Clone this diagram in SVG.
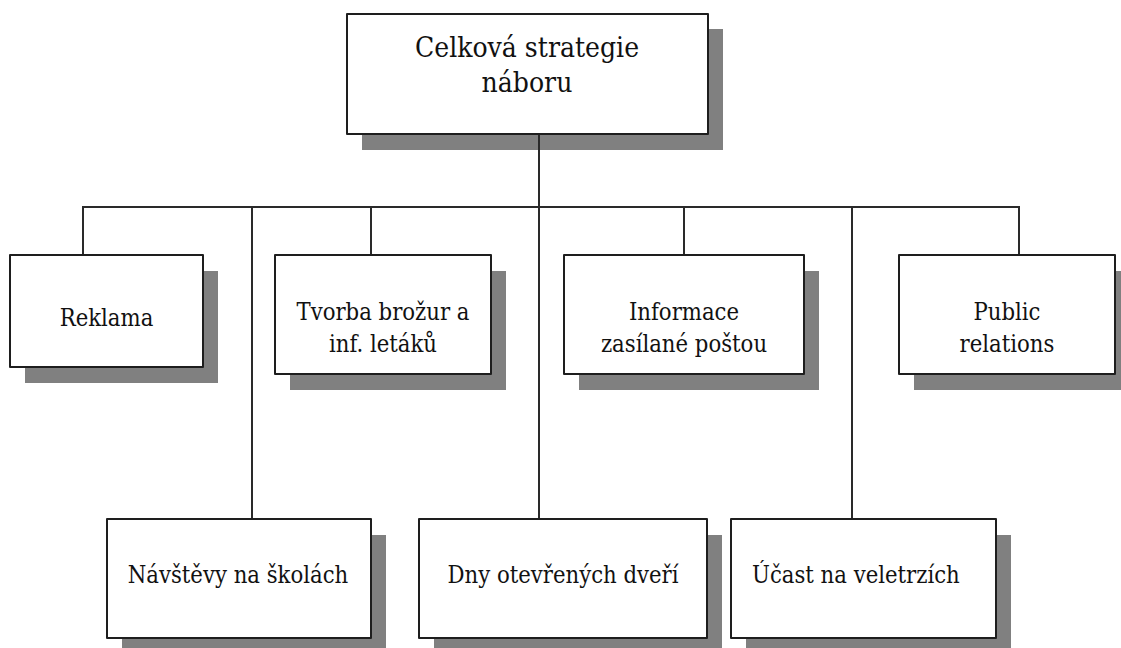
<svg xmlns="http://www.w3.org/2000/svg" width="1121" height="648" viewBox="0 0 1121 648">
<style>
.shadow{fill:#808080;stroke:none}
.box{fill:#ffffff;stroke:#1e1e1e;stroke-width:2;stroke-linejoin:round}
.lbl{font-family:'DejaVu Serif Condensed','DejaVu Serif','Liberation Serif',serif;font-stretch:condensed;font-size:23.6px;fill:#111;text-anchor:middle}
.title{font-size:28px}
.conn{fill:none;stroke:#2a2a2a;stroke-width:2}
</style>
<rect width="1121" height="648" fill="#ffffff"/>
<g id="node-root">
<rect class="shadow" x="362" y="29" width="361" height="121"/>
<rect class="box" x="347" y="14" width="361" height="120"/>
<text class="lbl title" x="527" y="57">Celková strategie</text>
<text class="lbl title" x="527" y="92">náboru</text>
</g>
<g id="node-reklama">
<rect class="shadow" x="25" y="271" width="193" height="112"/>
<rect class="box" x="10" y="255" width="193" height="112"/>
<text class="lbl" x="106.5" y="326">Reklama</text>
</g>
<g id="node-tvorba">
<rect class="shadow" x="290" y="271" width="216" height="119"/>
<rect class="box" x="275" y="255" width="216" height="119"/>
<text class="lbl" x="383" y="320">Tvorba brožur a</text>
<text class="lbl" x="383" y="352">inf. letáků</text>
</g>
<g id="node-informace">
<rect class="shadow" x="579" y="271" width="240" height="119"/>
<rect class="box" x="564" y="255" width="240" height="119"/>
<text class="lbl" x="684" y="320">Informace</text>
<text class="lbl" x="684" y="352">zasílané poštou</text>
</g>
<g id="node-public">
<rect class="shadow" x="914" y="271" width="216" height="119"/>
<rect class="box" x="899" y="255" width="216" height="119"/>
<text class="lbl" x="1007" y="320">Public</text>
<text class="lbl" x="1007" y="352">relations</text>
</g>
<g id="node-navstevy">
<rect class="shadow" x="122" y="535" width="264" height="119"/>
<rect class="box" x="107" y="519" width="264" height="119"/>
<text class="lbl" x="238" y="583">Návštěvy na školách</text>
</g>
<g id="node-dny">
<rect class="shadow" x="434" y="535" width="288" height="119"/>
<rect class="box" x="419" y="519" width="288" height="119"/>
<text class="lbl" x="563" y="583">Dny otevřených dveří</text>
</g>
<g id="node-ucast">
<rect class="shadow" x="746" y="535" width="265" height="119"/>
<rect class="box" x="731" y="519" width="265" height="119"/>
<text class="lbl" x="752" y="583" style="text-anchor:start">Účast na veletrzích</text>
</g>
<g id="connectors">
<line class="conn" x1="83" y1="207" x2="1019" y2="207"/>
<line class="conn" x1="539" y1="135" x2="539" y2="518"/>
<line class="conn" x1="83" y1="206" x2="83" y2="254"/>
<line class="conn" x1="252" y1="206" x2="252" y2="518"/>
<line class="conn" x1="371" y1="206" x2="371" y2="254"/>
<line class="conn" x1="684" y1="206" x2="684" y2="254"/>
<line class="conn" x1="852" y1="206" x2="852" y2="518"/>
<line class="conn" x1="1019" y1="206" x2="1019" y2="254"/>
</g>
</svg>
